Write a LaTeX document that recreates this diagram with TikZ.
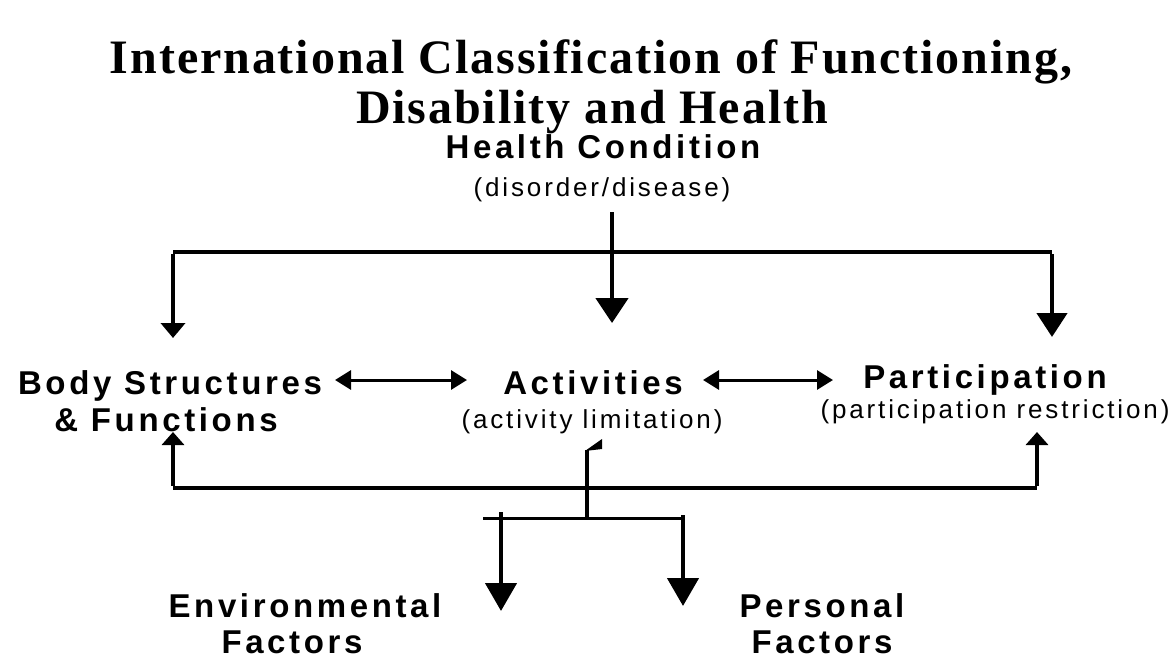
\documentclass[tikz,border=0pt]{standalone}
\usepackage{fontspec}
\usetikzlibrary{arrows.meta}
\newfontfamily\lsans[LetterSpace=11]{Liberation Sans}
\newfontfamily\ltitle[LetterSpace=4]{Liberation Serif}
\begin{document}
\begin{tikzpicture}[x=1pt,y=-1pt,
  titletext/.style={anchor=base,inner sep=0pt,font=\ltitle\bfseries\fontsize{48}{52}\selectfont},
  bigtext/.style={anchor=base,inner sep=0pt,font=\lsans\bfseries\fontsize{33}{37}\selectfont},
  smalltext/.style={anchor=base,inner sep=0pt,font=\lsans\fontsize{26}{30}\selectfont},
  thick line/.style={line width=4.5pt},
  thin line/.style={line width=3pt},
]
\fill[white] (0,0) rectangle (1171,661);
\useasboundingbox (0,0) rectangle (1171,661);

% title
\node[titletext] (t1) at (591,74) {International Classification of Functioning,};
\node[titletext] (t2) at (592,123) {Disability and Health};

% texts
\node[bigtext] (hc) at (603,158) {Health Condition};
\node[smalltext] (hcs) at (602,196) {(disorder/disease)};
\node[bigtext] (bs1) at (170,394) {Body Structures};
\node[bigtext] (bs2) at (166,431) {\& Functions};
\node[bigtext] (act) at (593,394) {Activities};
\node[smalltext] (acts) at (592,428) {(activity limitation)};
\node[bigtext] (par) at (985,388) {Participation};
\node[smalltext] (pars) at (995,418) {(participation restriction)};
\node[bigtext] (env1) at (305,617) {Environmental};
\node[bigtext] (env2) at (292,653) {Factors};
\node[bigtext] (per1) at (822,617) {Personal};
\node[bigtext] (per2) at (822,653) {Factors};

% coordinates
\coordinate (hctop) at (612,212);
\coordinate (hctip) at (612,323);
\coordinate (tl) at (173,252);
\coordinate (tr) at (1052,252);
\coordinate (ltip) at (173,338);
\coordinate (rtip) at (1052,337);
\coordinate (da1) at (335,380);
\coordinate (da2) at (467,380);
\coordinate (db1) at (703,380);
\coordinate (db2) at (833,380);
\coordinate (bl) at (173,488);
\coordinate (br) at (1037,488);
\coordinate (bltip) at (173,432);
\coordinate (brtip) at (1037,432);
\coordinate (mlow) at (587,518);
\coordinate (mtop) at (587,450);
\coordinate (fl) at (483,518);
\coordinate (fr) at (682,518);
\coordinate (el) at (501,512);
\coordinate (eltip) at (501,611);
\coordinate (pr) at (683,515);
\coordinate (prtip) at (683,606);

% top distribution
\draw[thick line] (tl) -- (tr);
\draw[thick line,-{Triangle[length=25pt,width=32pt]}] (hctop) -- (hctip);
\draw[thick line,-{Triangle[length=15pt,width=24pt]}] ([yshift=-2.25pt]tl) -- (ltip);
\draw[thick line,-{Triangle[length=24pt,width=30pt]}] ([yshift=-2.25pt]tr) -- (rtip);

% double arrows
\draw[thin line,{Triangle[length=16pt,width=19pt]}-{Triangle[length=16pt,width=19pt]}] (da1) -- (da2);
\draw[thin line,{Triangle[length=16pt,width=19pt]}-{Triangle[length=16pt,width=19pt]}] (db1) -- (db2);

% bottom bar
\draw[thick line] (bl) -- (br);
\draw[thick line,-{Triangle[length=13pt,width=22pt]}] ([yshift=2.25pt]bl) -- (bltip);
\draw[thick line,-{Triangle[length=13pt,width=22pt]}] ([yshift=2.25pt]br) -- (brtip);

% middle up arrow with small flag head
\draw[thick line] (mlow) -- (mtop);
\fill (585,451) -- (602,439) -- (602,449) -- cycle;

% lower factors
\draw[thin line] (fl) -- (fr);
\draw[thick line,-{Triangle[length=28pt,width=31pt]}] (el) -- (eltip);
\draw[thick line,-{Triangle[length=28pt,width=31pt]}] (pr) -- (prtip);
\end{tikzpicture}
\end{document}
